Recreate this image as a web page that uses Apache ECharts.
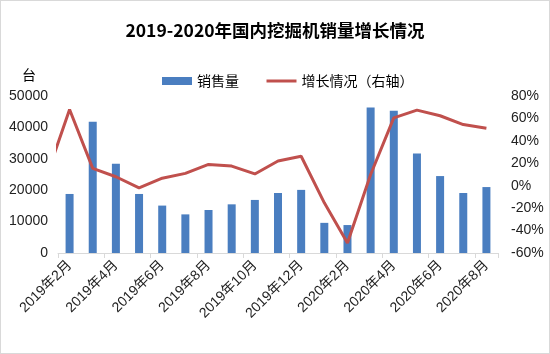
<!DOCTYPE html>
<html><head><meta charset="utf-8">
<script src="https://cdn.jsdelivr.net/npm/echarts@6/dist/echarts.min.js"></script>
<style>html,body{margin:0;padding:0;background:#fff;}#c{width:548px;height:352px;border:1px solid #d9d9d9;}</style>
</head><body><div id="c"></div>
<script>
// Categories (first one lies just before the visible range; only its line segment shows, clipped)
const categories = ['2019年1月','2019年2月','2019年3月','2019年4月','2019年5月','2019年6月','2019年7月','2019年8月','2019年9月','2019年10月','2019年11月','2019年12月','2020年1月','2020年2月','2020年3月','2020年4月','2020年5月','2020年6月','2020年7月','2020年8月'];
const sales  = [null,18800,41800,28400,18800,15100,12300,13700,15500,16900,19100,20100,9600,8900,46300,45300,31700,24500,19100,21000];
const growth = [8,68,15.5,8,-2,6.7,11,19,17.5,10.5,22,26.3,-15.3,-51,10,60.5,67.4,62.4,54.5,51.2];
const leftTicks = {min:0,max:50000,interval:10000};
const rightTicks = {min:-60,max:80,interval:20};

const font = "'Liberation Sans','Noto Sans CJK SC',sans-serif";
const chart = echarts.init(document.getElementById('c'));
chart.setOption({
  animation:false,
  title:{text:'2019-2020年国内挖掘机销量增长情况',left:'center',top:16,
    textStyle:{fontSize:17.5,fontWeight:'bold',color:'#000',fontFamily:"'Noto Sans CJK SC',sans-serif"}},
  legend:{left:156,top:68,itemWidth:30,itemHeight:8,itemGap:26,
    textStyle:{fontSize:14,color:'#000',fontFamily:"'Noto Sans CJK SC',sans-serif"},
    data:[{name:'销售量',icon:'rect'},{name:'增长情况（右轴）',itemStyle:{opacity:0},lineStyle:{width:3}}]},
  grid:{left:57,right:51,top:95,bottom:100,containLabel:false},
  xAxis:{type:'category',data:categories,min:1,
    axisLine:{lineStyle:{color:'#d9d9d9'}},
    axisTick:{show:true,length:5,interval:(i)=>i%2===1,lineStyle:{color:'#d9d9d9'}},
    axisLabel:{rotate:45,margin:10,interval:(i)=>i%2===1,fontSize:14,color:'#222',fontFamily:font}},
  yAxis:[
    {type:'value',min:leftTicks.min,max:leftTicks.max,interval:leftTicks.interval,
      name:'台',nameLocation:'end',nameGap:14,
      nameTextStyle:{fontSize:14,color:'#000',align:'right',padding:[0,22,0,0],fontFamily:"'Noto Sans CJK SC',sans-serif"},
      splitLine:{show:false},axisLine:{show:false},axisTick:{show:false},
      axisLabel:{fontSize:14,color:'#222',margin:10,fontFamily:font,formatter:(v)=>String(v)}},
    {type:'value',min:rightTicks.min,max:rightTicks.max,interval:rightTicks.interval,
      splitLine:{show:false},axisLine:{show:false},axisTick:{show:false},
      axisLabel:{fontSize:14,color:'#222',margin:13,formatter:(v)=>v+'%',fontFamily:font}}
  ],
  series:[
    {name:'销售量',type:'bar',data:sales,barWidth:8,itemStyle:{color:'#4A7EC0'}},
    {name:'增长情况（右轴）',type:'line',yAxisIndex:1,data:growth,symbol:'none',clip:true,
      lineStyle:{color:'#C0504D',width:3},itemStyle:{color:'#C0504D'}}
  ]
});
</script></body></html>
